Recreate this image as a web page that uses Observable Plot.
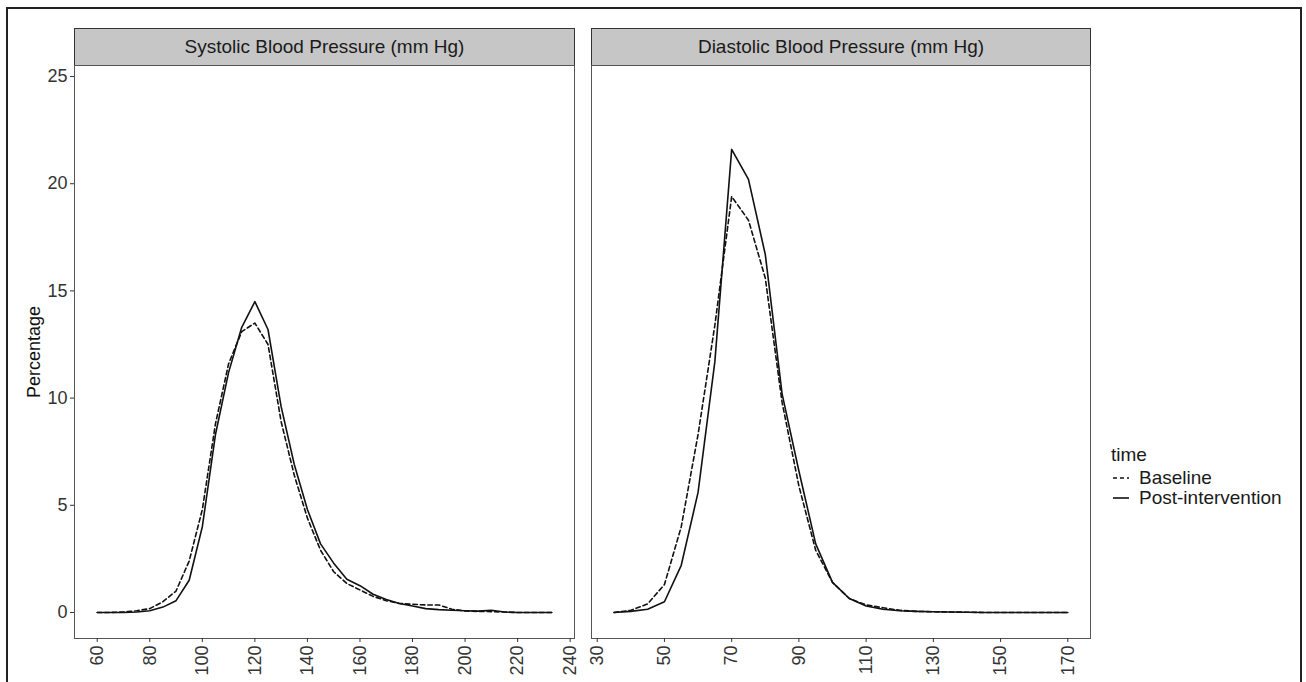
<!DOCTYPE html>
<html><head><meta charset="utf-8">
<script src="https://cdn.jsdelivr.net/npm/d3@7"></script>
<script src="https://cdn.jsdelivr.net/npm/@observablehq/plot@0.6"></script>
<style>
body{margin:0;background:#fff;font-family:"Liberation Sans",Arial,sans-serif;}
#root{position:relative;width:1306px;height:682px;overflow:hidden;background:#fff;}
.frame{position:absolute;left:6px;top:7px;width:1296px;height:690px;border:2px solid #222;box-sizing:border-box;}
.strip{position:absolute;top:28px;height:38px;background:#c6c6c6;border:1px solid #333;box-sizing:border-box;font-size:19px;color:#1a1a1a;text-align:center;line-height:35px;}
.plot{position:absolute;top:0;}
.legend{position:absolute;left:1111px;top:444px;font-size:19px;color:#1a1a1a;}
.legend .row{display:flex;align-items:center;height:20px;}
.legend svg{margin-right:8px;}
</style>
</head><body>
<div id="root">
  <div class="frame"></div>
  <div class="strip" id="s1" style="left:74px;width:501px;"></div>
  <div class="strip" id="s2" style="left:591px;width:500px;"></div>
  <div id="p1" class="plot" style="left:0px;"></div>
  <div id="p2" class="plot" style="left:580px;"></div>
  <div class="legend" id="legend"></div>
</div>
<script>
// ---- data ----
const panelTitles = ["Systolic Blood Pressure (mm Hg)", "Diastolic Blood Pressure (mm Hg)"];
const seriesNames = ["Baseline", "Post-intervention"];
const legendTitle = "time";
const yLabel = "Percentage";

const sysX = [60,65,70,75,80,85,90,95,100,105,110,115,120,125,130,135,140,145,150,155,160,165,170,175,180,185,190,195,200,205,210,215,220,225,230,233];
const sysBaseline = [0,0,0.02,0.08,0.18,0.5,1.0,2.4,4.8,8.8,11.6,13.1,13.5,12.5,8.9,6.4,4.4,2.9,1.9,1.35,1.05,0.75,0.55,0.42,0.38,0.35,0.35,0.15,0.07,0.05,0.04,0.02,0,0,0,0];
const sysPost = [0,0,0,0.02,0.08,0.25,0.55,1.5,4.0,8.3,11.2,13.3,14.5,13.2,9.6,6.9,4.8,3.2,2.3,1.55,1.25,0.85,0.6,0.42,0.3,0.18,0.13,0.1,0.08,0.06,0.1,0.02,0,0,0,0];

const diaX = [35,40,45,50,55,60,65,70,75,80,85,90,95,100,105,110,115,120,125,130,135,140,145,150,155,160,165,170];
const diaBaseline = [0,0.1,0.4,1.3,4.0,8.3,13.4,19.4,18.3,15.6,9.8,5.9,2.9,1.4,0.65,0.35,0.22,0.1,0.05,0.03,0.02,0.01,0,0,0,0,0,0];
const diaPost = [0,0.05,0.15,0.5,2.2,5.6,11.7,21.6,20.2,16.7,10.2,6.6,3.2,1.4,0.65,0.3,0.15,0.08,0.05,0.03,0.02,0.01,0,0,0,0,0,0];

const sysTicks = [60,80,100,120,140,160,180,200,220,240];
const diaTicks = [30,50,70,90,110,130,150,170];
const yTicks = [0,5,10,15,20,25];

// ---- build ----
function rows(xs, ys, name){ return xs.map((x,i)=>({x, y: ys[i], time: name})); }
const sysData = [...rows(sysX, sysBaseline, seriesNames[0]), ...rows(sysX, sysPost, seriesNames[1])];
const diaData = [...rows(diaX, diaBaseline, seriesNames[0]), ...rows(diaX, diaPost, seriesNames[1])];

const font = '"Liberation Sans", Arial, sans-serif';
const yDomain = [-1.215, 25.515];

function lineMarks(data){
  return [
    Plot.line(data.filter(d=>d.time===seriesNames[0]), {x:"x", y:"y", stroke:"#111", strokeWidth:1.6, strokeDasharray:"4.5,3"}),
    Plot.line(data.filter(d=>d.time===seriesNames[1]), {x:"x", y:"y", stroke:"#111", strokeWidth:1.6})
  ];
}

const p1 = Plot.plot({
  width: 580, height: 682,
  marginLeft: 74, marginRight: 6, marginTop: 65, marginBottom: 44,
  x: {domain: [51.35, 241.65]},
  y: {domain: yDomain},
  style: {fontFamily: font, background: "transparent", color: "#333", overflow: "visible"},
  marks: [
    Plot.frame({stroke: "#555", strokeWidth: 1}),
    Plot.axisY(yTicks, {tickSize: 4, tickPadding: 3, fontSize: 18, label: null}),
    Plot.axisX(sysTicks, {tickSize: 4, tickPadding: 3, tickRotate: -90, fontSize: 18, label: null}),
    ...lineMarks(sysData),
    Plot.text([yLabel], {frameAnchor: "left", textAnchor: "middle", rotate: -90, dx: -40, fontSize: 18, fill: "#111"})
  ]
});
document.getElementById("p1").appendChild(p1);

const p2 = Plot.plot({
  width: 520, height: 682,
  marginLeft: 11, marginRight: 10, marginTop: 65, marginBottom: 44,
  x: {domain: [28.3, 176.75]},
  y: {domain: yDomain, axis: null},
  style: {fontFamily: font, background: "transparent", color: "#333", overflow: "visible"},
  marks: [
    Plot.frame({stroke: "#555", strokeWidth: 1}),
    Plot.axisX(diaTicks, {tickSize: 4, tickPadding: 3, tickRotate: -90, fontSize: 18, label: null}),
    ...lineMarks(diaData)
  ]
});
document.getElementById("p2").appendChild(p2);

document.getElementById("s1").textContent = panelTitles[0];
document.getElementById("s2").textContent = panelTitles[1];

// legend
const lg = document.getElementById("legend");
const t = document.createElement("div");
t.textContent = legendTitle; t.style.height="24px";
lg.appendChild(t);
seriesNames.forEach((name,i)=>{
  const r = document.createElement("div"); r.className = "row";
  r.innerHTML = `<svg width="20" height="20"><line x1="2" x2="18" y1="10" y2="10" stroke="#111" stroke-width="1.6" ${i===0?'stroke-dasharray="4,3"':''}/></svg><span>${name}</span>`;
  lg.appendChild(r);
});
</script>
</body></html>
